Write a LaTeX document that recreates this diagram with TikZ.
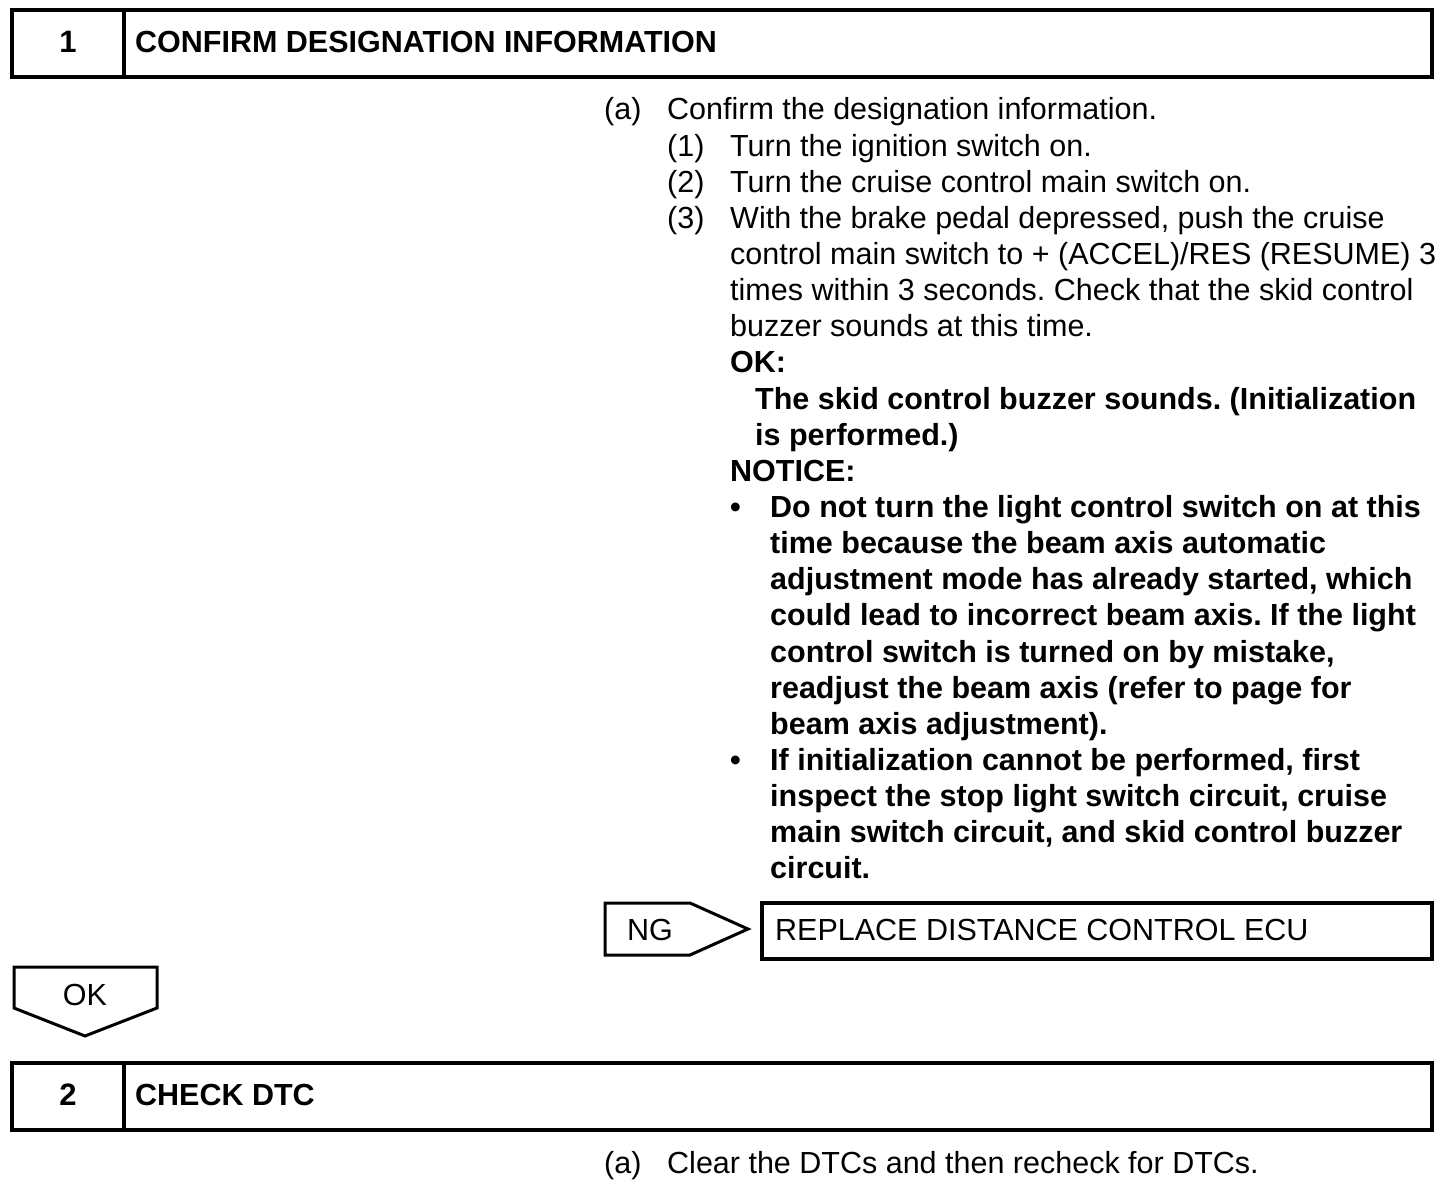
\documentclass[tikz,border=0pt]{standalone}
\usepackage{fontspec}
\setmainfont{Liberation Sans}
\frenchspacing
\begin{document}
\begin{tikzpicture}[x=1pt,y=-1pt,
  txt/.style={inner sep=0pt,anchor=base west,font=\fontsize{30.5}{36}\selectfont},
  btxt/.style={txt,font=\fontsize{30.5}{36}\selectfont\bfseries},
  ctr/.style={inner sep=0pt,anchor=base,font=\fontsize{30.5}{36}\selectfont},
  hdr/.style={line width=4pt},
  tag/.style={line width=3pt,line join=miter}]
\useasboundingbox (0,0) rectangle (1456,1190);
% header 1
\draw[hdr] (12,10) rectangle (1432,77);
\draw[hdr] (124,10) -- (124,77);
\node[ctr,font=\fontsize{31}{36}\selectfont\bfseries] (n1) at (68,53) {1};
\node[btxt] (t1) at (135,53) {CONFIRM DESIGNATION INFORMATION};
% body lines
\def\bl#1{120+36.14*#1}
\node[txt] (a1) at (604,{\bl{0}}) {(a)};
\node[txt] (l0) at (667,{\bl{0}}) {Confirm the designation information.};
\node[txt] (s1) at (667,{\bl{1}}) {(1)};
\node[txt] (l1) at (730,{\bl{1}}) {Turn the ignition switch on.};
\node[txt] (s2) at (667,{\bl{2}}) {(2)};
\node[txt] (l2) at (730,{\bl{2}}) {Turn the cruise control main switch on.};
\node[txt] (s3) at (667,{\bl{3}}) {(3)};
\node[txt] (l3) at (730,{\bl{3}}) {With the brake pedal depressed, push the cruise};
\node[txt] (l4) at (730,{\bl{4}}) {control main switch to + (ACCEL)/RES (RESUME) 3};
\node[txt] (l5) at (730,{\bl{5}}) {times within 3 seconds. Check that the skid control};
\node[txt] (l6) at (730,{\bl{6}}) {buzzer sounds at this time.};
\node[btxt] (l7) at (730,{\bl{7}}) {OK:};
\node[btxt] (l8) at (755,{\bl{8}}) {The skid control buzzer sounds. (Initialization};
\node[btxt] (l9) at (755,{\bl{9}}) {is performed.)};
\node[btxt] (l10) at (730,{\bl{10}}) {NOTICE:};
\node[btxt] (b1) at (730,{\bl{11}}) {•};
\node[btxt] (l11) at (770,{\bl{11}}) {Do not turn the light control switch on at this};
\node[btxt] (l12) at (770,{\bl{12}}) {time because the beam axis automatic};
\node[btxt] (l13) at (770,{\bl{13}}) {adjustment mode has already started, which};
\node[btxt] (l14) at (770,{\bl{14}}) {could lead to incorrect beam axis. If the light};
\node[btxt] (l15) at (770,{\bl{15}}) {control switch is turned on by mistake,};
\node[btxt] (l16) at (770,{\bl{16}}) {readjust the beam axis (refer to page for};
\node[btxt] (l17) at (770,{\bl{17}}) {beam axis adjustment).};
\node[btxt] (b2) at (730,{\bl{18}}) {•};
\node[btxt] (l18) at (770,{\bl{18}}) {If initialization cannot be performed, first};
\node[btxt] (l19) at (770,{\bl{19}}) {inspect the stop light switch circuit, cruise};
\node[btxt] (l20) at (770,{\bl{20}}) {main switch circuit, and skid control buzzer};
\node[btxt] (l21) at (770,{\bl{21}}) {circuit.};
% NG tag and result box
\draw[tag] (605,903) -- (690,903) -- (748,929) -- (690,955) -- (605,955) -- cycle;
\node[ctr] (ng) at (650,940) {NG};
\draw[hdr] (762,903) rectangle (1432,959);
\node[txt] (rep) at (775,940) {REPLACE DISTANCE CONTROL ECU};
% OK tag
\draw[tag] (14,967) -- (157,967) -- (157,1008) -- (85,1036) -- (14,1008) -- cycle;
\node[ctr] (ok) at (85,1005) {OK};
% header 2
\draw[hdr] (12,1063) rectangle (1432,1130);
\draw[hdr] (124,1063) -- (124,1130);
\node[ctr,font=\fontsize{31}{36}\selectfont\bfseries] (n2) at (68,1105) {2};
\node[btxt] (t2) at (135,1105) {CHECK DTC};
% step 2 body
\node[txt] (a2) at (604,1173) {(a)};
\node[txt] (m0) at (667,1173) {Clear the DTCs and then recheck for DTCs.};
\end{tikzpicture}
\end{document}
